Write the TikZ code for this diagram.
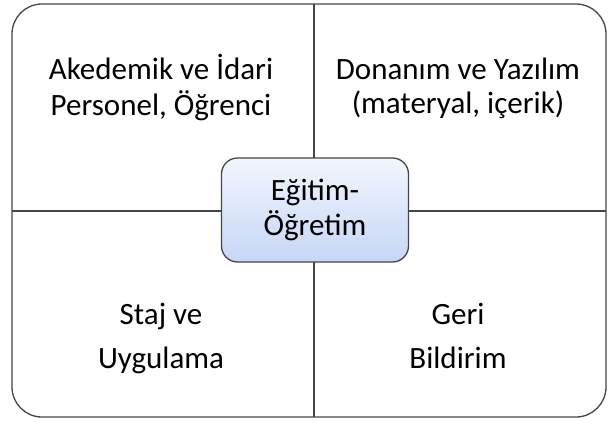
\documentclass[tikz,border=0pt]{standalone}
\usepackage{fontspec}
\setmainfont{Carlito}
\usetikzlibrary{positioning}
\definecolor{framegray}{RGB}{70,70,70}
\definecolor{boxtop}{RGB}{242,246,254}
\definecolor{boxbottom}{RGB}{198,214,246}
\tikzstyle{frame} = [draw=framegray, line width=1.3pt]
\tikzstyle{quadtext} = [draw=none, align=center, text centered, font=\fontsize{31}{34}\selectfont]
\tikzstyle{center_box} = [rectangle, rounded corners=16pt, minimum width=187pt, minimum height=104pt, align=center, text centered, draw=framegray, line width=1.3pt, top color=boxtop, bottom color=boxbottom, font=\fontsize{31}{35}\selectfont]

\begin{document}
\begin{tikzpicture}[x=1pt, y=-1pt]
		\useasboundingbox (0,0) rectangle (608,421);
		% outer frame and the cross
		\draw [frame, rounded corners=30pt] (12,4) rectangle (606,417);
		\coordinate (top_mid) at (314,4);
		\coordinate (bottom_mid) at (314,417);
		\coordinate (left_mid) at (12,211);
		\coordinate (right_mid) at (606,211);
		\draw [frame] (top_mid) -- (bottom_mid);
		\draw [frame] (left_mid) -- (right_mid);

		\node (personel) [quadtext] at (161,90) {\strut Akedemik ve İdari\\\strut Personel, Öğrenci};
		\node (donanim) [quadtext] at (458,90) {\strut Donanım ve Yazılım\\\strut (materyal, içerik)};
		\node (staj) [quadtext] at (161,340) {\strut Staj ve\\[10pt]\strut Uygulama};
		\node (geri) [quadtext] at (458,340) {\strut Geri\\[10pt]\strut Bildirim};

		\node (egitim) [center_box] at (315,210) {Eğitim-\\Öğretim};
\end{tikzpicture}
\end{document}
